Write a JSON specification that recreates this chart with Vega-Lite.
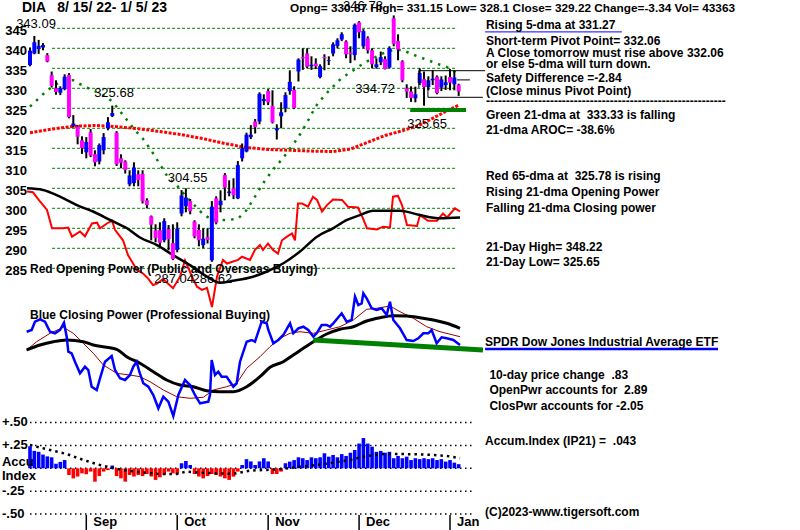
{
"$schema": "https://vega.github.io/schema/vega-lite/v6.json",
"width": 772, "height": 530,
"autosize": {"type": "none"},
"padding": {"left": 28, "top": 0, "right": 0, "bottom": 0},
"background": "white",
"config": {"view": {"stroke": null}, "font": "Liberation Sans"},
"datasets": {
"px": [
{"i":0,"o":335.8,"h":340.2,"l":335.5,"c":339.4},{"i":1,"o":338.7,"h":343.09,"l":338.5,"c":341.5},{"i":2,"o":339.8,"h":342.1,"l":338.6,"c":340.6},{"i":3,"o":340.2,"h":341.3,"l":339.5,"c":340.8},{"i":4,"o":338.3,"h":338.8,"l":336.5,"c":336.7},
{"i":5,"o":333.3,"h":334.2,"l":330.2,"c":330.6},{"i":6,"o":330.0,"h":332.0,"l":328.4,"c":329.1},{"i":7,"o":328.9,"h":330.5,"l":328.3,"c":330.0},{"i":8,"o":329.8,"h":333.5,"l":329.5,"c":332.9},{"i":9,"o":333.3,"h":333.8,"l":322.5,"c":322.8},
{"i":10,"o":320.6,"h":323.3,"l":320.2,"c":321.2},{"i":11,"o":320.4,"h":320.8,"l":316.0,"c":317.9},{"i":12,"o":317.0,"h":318.0,"l":313.6,"c":315.1},{"i":13,"o":314.0,"h":317.8,"l":312.5,"c":316.6},{"i":14,"o":319.0,"h":319.8,"l":312.8,"c":313.2},
{"i":15,"o":313.5,"h":314.5,"l":310.5,"c":311.5},{"i":16,"o":311.7,"h":316.2,"l":311.0,"c":315.8},{"i":17,"o":314.5,"h":318.8,"l":313.5,"c":317.8},{"i":18,"o":320.0,"h":322.8,"l":319.5,"c":321.5},{"i":19,"o":323.1,"h":325.68,"l":322.8,"c":323.8},
{"i":20,"o":318.9,"h":319.3,"l":310.6,"c":311.0},{"i":21,"o":312.5,"h":313.5,"l":310.0,"c":311.4},{"i":22,"o":311.7,"h":312.0,"l":308.7,"c":309.6},{"i":23,"o":306.0,"h":309.5,"l":305.5,"c":308.2},{"i":24,"o":306.3,"h":311.5,"l":305.5,"c":310.2},
{"i":25,"o":308.5,"h":309.5,"l":305.5,"c":307.1},{"i":26,"o":308.6,"h":309.5,"l":301.2,"c":301.8},{"i":27,"o":302.0,"h":302.5,"l":300.0,"c":300.8},{"i":28,"o":298.0,"h":298.2,"l":292.0,"c":295.9},{"i":29,"o":294.5,"h":296.0,"l":291.5,"c":292.6},
{"i":30,"o":294.5,"h":296.5,"l":290.2,"c":291.4},{"i":31,"o":292.0,"h":297.5,"l":291.5,"c":296.8},{"i":32,"o":294.8,"h":295.8,"l":289.5,"c":292.3},{"i":33,"o":291.3,"h":296.0,"l":287.04,"c":287.3},{"i":34,"o":289.6,"h":296.5,"l":289.0,"c":294.9},
{"i":35,"o":298.7,"h":304.55,"l":298.0,"c":303.2},{"i":36,"o":300.5,"h":305.0,"l":299.0,"c":302.7},{"i":37,"o":301.8,"h":302.3,"l":298.5,"c":299.3},{"i":38,"o":296.7,"h":297.0,"l":292.5,"c":293.0},{"i":39,"o":294.6,"h":296.0,"l":290.5,"c":292.0},
{"i":40,"o":290.8,"h":295.0,"l":290.0,"c":292.4},{"i":41,"o":292.8,"h":295.0,"l":291.2,"c":292.1},{"i":42,"o":287.0,"h":301.8,"l":286.62,"c":300.4},{"i":43,"o":302.5,"h":303.0,"l":296.0,"c":296.4},{"i":44,"o":300.8,"h":304.5,"l":299.0,"c":301.9},
{"i":45,"o":308.3,"h":308.8,"l":302.0,"c":305.2},{"i":46,"o":303.8,"h":307.0,"l":303.0,"c":304.2},{"i":47,"o":305.0,"h":307.5,"l":302.3,"c":303.3},{"i":48,"o":302.5,"h":311.8,"l":302.3,"c":310.8},{"i":49,"o":312.5,"h":316.2,"l":311.7,"c":315.0},
{"i":50,"o":314.2,"h":318.9,"l":314.0,"c":318.4},{"i":51,"o":317.8,"h":320.8,"l":317.3,"c":318.4},{"i":52,"o":321.7,"h":322.3,"l":318.7,"c":320.3},{"i":53,"o":321.7,"h":329.0,"l":321.0,"c":328.6},{"i":54,"o":326.8,"h":328.5,"l":325.8,"c":327.3},
{"i":55,"o":329.3,"h":329.8,"l":325.8,"c":326.5},{"i":56,"o":325.6,"h":329.5,"l":321.2,"c":321.5},{"i":57,"o":319.5,"h":321.0,"l":317.2,"c":320.0},{"i":58,"o":323.0,"h":326.5,"l":320.0,"c":324.0},{"i":59,"o":325.0,"h":329.0,"l":324.0,"c":328.3},
{"i":60,"o":329.3,"h":334.5,"l":328.4,"c":331.6},{"i":61,"o":329.6,"h":330.5,"l":324.8,"c":325.1},{"i":62,"o":334.2,"h":337.5,"l":331.7,"c":337.2},{"i":63,"o":337.8,"h":340.0,"l":334.6,"c":337.5},{"i":64,"o":338.7,"h":340.0,"l":335.0,"c":335.4},
{"i":65,"o":335.5,"h":338.0,"l":334.6,"c":335.9},{"i":66,"o":336.2,"h":337.5,"l":334.8,"c":335.5},{"i":67,"o":332.8,"h":336.0,"l":332.5,"c":335.5},{"i":68,"o":337.8,"h":338.5,"l":334.5,"c":337.5},{"i":69,"o":336.8,"h":338.0,"l":335.8,"c":337.0},
{"i":70,"o":338.7,"h":341.5,"l":338.0,"c":341.0},{"i":71,"o":340.6,"h":342.5,"l":340.0,"c":342.0},{"i":72,"o":342.2,"h":344.0,"l":341.8,"c":343.5},{"i":73,"o":341.7,"h":342.0,"l":337.5,"c":338.5},{"i":74,"o":338.9,"h":340.5,"l":336.3,"c":338.5},
{"i":75,"o":338.3,"h":346.2,"l":337.0,"c":345.9},{"i":76,"o":346.5,"h":346.78,"l":342.5,"c":344.0},{"i":77,"o":340.5,"h":344.8,"l":340.0,"c":344.3},{"i":78,"o":342.5,"h":343.0,"l":338.7,"c":339.5},{"i":79,"o":339.5,"h":340.0,"l":335.0,"c":336.0},
{"i":80,"o":335.3,"h":337.5,"l":334.9,"c":336.0},{"i":81,"o":336.5,"h":339.2,"l":335.8,"c":337.8},{"i":82,"o":337.3,"h":338.0,"l":334.72,"c":334.8},{"i":83,"o":335.2,"h":340.5,"l":335.0,"c":340.1},{"i":84,"o":347.5,"h":348.22,"l":340.5,"c":341.1},
{"i":85,"o":341.8,"h":343.5,"l":337.0,"c":339.7},{"i":86,"o":336.7,"h":337.0,"l":331.5,"c":332.0},{"i":87,"o":330.0,"h":331.0,"l":327.6,"c":329.2},{"i":88,"o":329.2,"h":330.5,"l":326.6,"c":327.6},{"i":89,"o":327.5,"h":330.4,"l":326.5,"c":328.5},
{"i":90,"o":331.3,"h":335.0,"l":330.8,"c":333.8},{"i":91,"o":332.3,"h":334.2,"l":325.65,"c":330.3},{"i":92,"o":330.3,"h":333.0,"l":329.5,"c":332.0},{"i":93,"o":332.0,"h":334.5,"l":330.8,"c":332.4},{"i":94,"o":332.9,"h":333.2,"l":328.5,"c":328.8},
{"i":95,"o":330.2,"h":333.0,"l":329.3,"c":332.2},{"i":96,"o":330.8,"h":333.2,"l":329.6,"c":331.5},{"i":97,"o":332.8,"h":334.8,"l":329.5,"c":331.4},{"i":98,"o":331.0,"h":334.3,"l":329.5,"c":332.7},{"i":99,"o":330.87,"h":331.15,"l":328.1,"c":329.22}
],
"ma21": [
{"i":0,"v":325.4},{"i":2,"v":327.5},{"i":4,"v":329.5},{"i":6,"v":331},{"i":8,"v":332},{"i":10,"v":332},{"i":12,"v":330.8},{"i":14,"v":329.7},{"i":16,"v":328.8},{"i":18,"v":327.7},{"i":20,"v":325.4},{"i":22,"v":322.6},{"i":24,"v":319.8},{"i":26,"v":317.5},{"i":28,"v":314.5},{"i":30,"v":311},{"i":32,"v":307.5},{"i":34,"v":305.6},{"i":36,"v":303},{"i":38,"v":300.7},{"i":40,"v":298.5},{"i":42,"v":297.2},{"i":44,"v":297.1},{"i":46,"v":297.1},{"i":48,"v":297.4},{"i":50,"v":299.5},{"i":52,"v":303},{"i":54,"v":306.5},{"i":56,"v":309.5},{"i":58,"v":312},{"i":60,"v":314.8},{"i":62,"v":317.8},{"i":64,"v":321.5},{"i":66,"v":325.5},{"i":68,"v":328.2},{"i":70,"v":330.4},{"i":72,"v":332.6},{"i":74,"v":334},{"i":76,"v":335.5},{"i":78,"v":336.8},{"i":80,"v":337.9},{"i":82,"v":339},{"i":84,"v":339.6},{"i":86,"v":339.6},{"i":88,"v":338.6},{"i":90,"v":337.8},{"i":92,"v":337},{"i":94,"v":336.1},{"i":96,"v":335.5},{"i":98,"v":334.2},{"i":99,"v":333.33}
],
"ma65": [
{"i":0,"v":318.9},{"i":5,"v":319.8},{"i":10,"v":320.5},{"i":15,"v":320.7},{"i":20,"v":320.4},{"i":25,"v":319.9},{"i":30,"v":319.2},{"i":35,"v":318.4},{"i":40,"v":317.4},{"i":45,"v":316.2},{"i":50,"v":315.2},{"i":55,"v":314.7},{"i":60,"v":314.5},{"i":65,"v":314.3},{"i":70,"v":314.2},{"i":74,"v":314.8},{"i":78,"v":316.5},{"i":82,"v":318.2},{"i":86,"v":319.4},{"i":90,"v":320.8},{"i":93,"v":322.5},{"i":96,"v":324.2},{"i":99,"v":325.78}
],
"op": [
{"i":-0.69,"v":304.2},{"i":0.69,"v":304.0},{"i":2.31,"v":301.7},{"i":3.93,"v":299.6},{"i":5.08,"v":295},{"i":7.62,"v":295},{"i":8.78,"v":295.2},{"i":9.7,"v":292.9},{"i":11.55,"v":294.2},{"i":12.7,"v":293},{"i":14.32,"v":296.2},{"i":15.47,"v":296.4},{"i":16.17,"v":295},{"i":17.78,"v":296.2},{"i":18.94,"v":296.9},{"i":19.63,"v":294.6},{"i":21.48,"v":292},{"i":22.63,"v":288.3},{"i":24.71,"v":284.6},{"i":26.1,"v":283.7},{"i":27.25,"v":282.5},{"i":28.41,"v":280.8},{"i":29.33,"v":281.2},{"i":30.72,"v":282.3},{"i":33.03,"v":280},{"i":34.64,"v":282.9},{"i":35.8,"v":287},{"i":37.41,"v":282.9},{"i":38.57,"v":280.4},{"i":39.72,"v":279.6},{"i":40.88,"v":280.1},{"i":42.03,"v":275.3},{"i":43.2,"v":283},{"i":44.57,"v":287.1},{"i":45.5,"v":286.2},{"i":48.04,"v":287.1},{"i":48.96,"v":287.9},{"i":50.8,"v":287.1},{"i":51.96,"v":289.6},{"i":53.12,"v":290.8},{"i":53.8,"v":289.6},{"i":54.97,"v":291.2},{"i":56.12,"v":289.6},{"i":57.27,"v":288.7},{"i":58.2,"v":292},{"i":59.35,"v":292.9},{"i":60.51,"v":293.7},{"i":61.2,"v":292},{"i":61.89,"v":301.2},{"i":62.82,"v":301.2},{"i":64.2,"v":300.4},{"i":65.36,"v":302.9},{"i":66.28,"v":302.1},{"i":67.44,"v":299.2},{"i":68.59,"v":300.8},{"i":69.98,"v":302.2},{"i":72.06,"v":302.1},{"i":73.44,"v":300.4},{"i":75.75,"v":300.2},{"i":76.9,"v":297.5},{"i":77.83,"v":295},{"i":80.14,"v":294.7},{"i":81.52,"v":295.4},{"i":83.14,"v":295.2},{"i":83.83,"v":302.9},{"i":84.99,"v":303.1},{"i":85.91,"v":300.8},{"i":87.07,"v":295.8},{"i":89.38,"v":295.6},{"i":90.07,"v":298.3},{"i":91.92,"v":296.9},{"i":94,"v":296.9},{"i":95.38,"v":298.7},{"i":96.3,"v":297.7},{"i":98.15,"v":300},{"i":99.31,"v":299.2}
],
"opma": [
{"i":-0.69,"v":305},{"i":3.0,"v":304.6},{"i":6.93,"v":302.9},{"i":10.85,"v":300.8},{"i":14.55,"v":299.2},{"i":18.48,"v":297.1},{"i":22.4,"v":295},{"i":25.4,"v":292.7},{"i":29.33,"v":290.8},{"i":33.03,"v":288.3},{"i":36.95,"v":285.8},{"i":40.88,"v":282.9},{"i":43.88,"v":281.4},{"i":46.88,"v":281.9},{"i":51.5,"v":282.9},{"i":54.73,"v":284.2},{"i":58.43,"v":286.2},{"i":62.36,"v":289.2},{"i":66.28,"v":292.9},{"i":69.98,"v":295},{"i":73.21,"v":297.1},{"i":76.21,"v":298.3},{"i":79.21,"v":299.4},{"i":85.45,"v":299.4},{"i":90.07,"v":298.3},{"i":94.69,"v":297.5},{"i":99.31,"v":297.7}
],
"cpb": [
{"i":-0.77,"v":0.83},{"i":0.38,"v":1.0},{"i":1.15,"v":1.83},{"i":2.31,"v":2.07},{"i":3.46,"v":1.83},{"i":4.62,"v":0.83},{"i":5.77,"v":0.67},{"i":6.93,"v":1.0},{"i":7.85,"v":1.73},{"i":8.47,"v":0.33},{"i":8.85,"v":-1.17},{"i":9.62,"v":-1.33},{"i":10.39,"v":-2.17},{"i":11.55,"v":-3.33},{"i":12.7,"v":-2.67},{"i":13.47,"v":-3.0},{"i":14.24,"v":-4.67},{"i":15.4,"v":-5.0},{"i":16.17,"v":-3.83},{"i":17.32,"v":-2.17},{"i":18.86,"v":-1.6},{"i":19.63,"v":-3.0},{"i":20.79,"v":-3.83},{"i":21.94,"v":-4.0},{"i":23.09,"v":-3.5},{"i":23.86,"v":-2.67},{"i":24.63,"v":-2.17},{"i":25.25,"v":-3.17},{"i":26.17,"v":-4.33},{"i":27.33,"v":-4.67},{"i":28.48,"v":-5.5},{"i":29.64,"v":-6.83},{"i":30.79,"v":-5.67},{"i":31.95,"v":-6.17},{"i":33.1,"v":-7.6},{"i":34.26,"v":-5.5},{"i":35.8,"v":-4.0},{"i":36.95,"v":-4.5},{"i":38.1,"v":-5.5},{"i":39.26,"v":-6.33},{"i":41.18,"v":-6.17},{"i":41.57,"v":-5.5},{"i":41.96,"v":-2.0},{"i":42.73,"v":-3.5},{"i":43.49,"v":-3.17},{"i":44.26,"v":-3.67},{"i":45.42,"v":-3.67},{"i":46.96,"v":-4.67},{"i":47.73,"v":-4.33},{"i":48.5,"v":-2.17},{"i":50.04,"v":-0.17},{"i":51.19,"v":0.0},{"i":51.96,"v":-0.17},{"i":53.5,"v":1.83},{"i":54.66,"v":1.67},{"i":55.04,"v":1.0},{"i":56.2,"v":-0.33},{"i":57.35,"v":0.0},{"i":58.5,"v":0.5},{"i":60.05,"v":1.67},{"i":60.81,"v":0.67},{"i":61.97,"v":1.17},{"i":63.12,"v":1.33},{"i":64.27,"v":1.0},{"i":65.43,"v":0.33},{"i":66.2,"v":0.67},{"i":67.36,"v":1.5},{"i":68.51,"v":1.5},{"i":69.28,"v":1.33},{"i":70.05,"v":1.67},{"i":71.98,"v":2.67},{"i":73.13,"v":1.83},{"i":74.29,"v":2.0},{"i":75.06,"v":4.33},{"i":75.82,"v":3.5},{"i":76.6,"v":3.67},{"i":76.98,"v":4.67},{"i":77.75,"v":4.17},{"i":78.91,"v":3.17},{"i":80.06,"v":3.0},{"i":81.22,"v":3.17},{"i":82.37,"v":2.5},{"i":83.14,"v":3.83},{"i":83.91,"v":2.0},{"i":85.45,"v":1.17},{"i":86.99,"v":0.0},{"i":88.53,"v":-0.1},{"i":89.68,"v":0.17},{"i":90.84,"v":0.67},{"i":91.99,"v":0.67},{"i":92.76,"v":1.0},{"i":93.92,"v":-0.33},{"i":95.07,"v":0.27},{"i":96.23,"v":0.17},{"i":97.77,"v":0.0},{"i":99.31,"v":-0.5}
],
"cpr": [
{"i":-0.77,"v":-1.0},{"i":1.54,"v":-0.17},{"i":4.62,"v":0.67},{"i":7.7,"v":1.27},{"i":10.0,"v":0.67},{"i":12.32,"v":-0.33},{"i":14.63,"v":-1.33},{"i":16.94,"v":-2.5},{"i":20.01,"v":-3.33},{"i":23.09,"v":-3.5},{"i":25.4,"v":-3.67},{"i":27.71,"v":-4.17},{"i":30.79,"v":-5.0},{"i":33.87,"v":-5.67},{"i":36.95,"v":-5.83},{"i":40.03,"v":-5.73},{"i":42.34,"v":-5.0},{"i":45.42,"v":-4.67},{"i":47.73,"v":-4.33},{"i":50.04,"v":-2.83},{"i":53.12,"v":-1.67},{"i":55.43,"v":-0.67},{"i":57.74,"v":0.17},{"i":60.05,"v":0.67},{"i":62.36,"v":0.83},{"i":65.43,"v":0.67},{"i":68.51,"v":1.0},{"i":71.59,"v":1.33},{"i":74.67,"v":2.0},{"i":77.75,"v":3.07},{"i":80.06,"v":3.17},{"i":83.14,"v":3.4},{"i":85.45,"v":2.83},{"i":88.53,"v":2.17},{"i":91.61,"v":1.33},{"i":94.69,"v":0.83},{"i":99.31,"v":0.33}
],
"cpk": [
{"i":-0.77,"v":-1.0},{"i":2.31,"v":-0.5},{"i":5.39,"v":-0.17},{"i":8.47,"v":0.0},{"i":12.32,"v":-0.17},{"i":14.63,"v":-0.5},{"i":17.7,"v":-0.73},{"i":20.01,"v":-0.93},{"i":22.32,"v":-1.67},{"i":25.4,"v":-2.33},{"i":28.48,"v":-3.17},{"i":31.56,"v":-4.0},{"i":34.64,"v":-4.5},{"i":37.72,"v":-4.67},{"i":40.8,"v":-5.07},{"i":43.88,"v":-5.17},{"i":46.96,"v":-5.17},{"i":50.04,"v":-4.67},{"i":53.12,"v":-3.67},{"i":55.43,"v":-2.73},{"i":58.5,"v":-2.17},{"i":60.81,"v":-1.5},{"i":63.12,"v":-0.83},{"i":65.43,"v":-0.17},{"i":68.51,"v":0.6},{"i":71.59,"v":1.07},{"i":74.67,"v":1.33},{"i":77.75,"v":1.9},{"i":80.83,"v":2.23},{"i":83.91,"v":2.43},{"i":86.99,"v":2.4},{"i":90.07,"v":2.23},{"i":93.15,"v":2.0},{"i":96.23,"v":1.67},{"i":99.31,"v":1.17}
],
"cpg": [{"i":65.4,"v":0.0},{"i":104.6,"v":-1.0}],
"acc": [
{"i":0,"a":0.24},{"i":1,"a":0.19},{"i":2,"a":0.18},{"i":3,"a":0.15},{"i":4,"a":0.13},{"i":5,"a":0.12},{"i":6,"a":0.05},{"i":7,"a":0.07},{"i":8,"a":0.09},{"i":9,"a":-0.073},
{"i":10,"a":-0.11},{"i":11,"a":-0.09},{"i":12,"a":-0.055},{"i":13,"a":-0.065},{"i":14,"a":-0.036},{"i":15,"a":-0.146},{"i":16,"a":-0.085},{"i":17,"a":-0.036},{"i":18,"a":-0.02},{"i":19,"a":0.03},
{"i":20,"a":-0.085},{"i":21,"a":-0.11},{"i":22,"a":-0.146},{"i":23,"a":-0.073},{"i":24,"a":-0.09},{"i":25,"a":-0.073},{"i":26,"a":-0.085},{"i":27,"a":-0.062},{"i":28,"a":-0.09},{"i":29,"a":-0.127},
{"i":30,"a":-0.098},{"i":31,"a":-0.073},{"i":32,"a":-0.036},{"i":33,"a":-0.055},{"i":34,"a":-0.062},{"i":35,"a":0.055},{"i":36,"a":0.08},{"i":37,"a":0.036},{"i":38,"a":-0.062},{"i":39,"a":-0.09},
{"i":40,"a":-0.11},{"i":41,"a":-0.085},{"i":42,"a":-0.062},{"i":43,"a":-0.073},{"i":44,"a":-0.09},{"i":45,"a":-0.11},{"i":46,"a":-0.127},{"i":47,"a":-0.091},{"i":48,"a":-0.036},{"i":49,"a":0.036},
{"i":50,"a":0.1},{"i":51,"a":0.075},{"i":52,"a":0.036},{"i":53,"a":0.075},{"i":54,"a":0.11},{"i":55,"a":0.075},{"i":56,"a":-0.062},{"i":57,"a":-0.062},{"i":58,"a":-0.036},{"i":59,"a":0.055},
{"i":60,"a":0.073},{"i":61,"a":0.09},{"i":62,"a":0.12},{"i":63,"a":0.11},{"i":64,"a":0.09},{"i":65,"a":0.12},{"i":66,"a":0.11},{"i":67,"a":0.12},{"i":68,"a":0.164},{"i":69,"a":0.127},
{"i":70,"a":0.145},{"i":71,"a":0.12},{"i":72,"a":0.155},{"i":73,"a":0.135},{"i":74,"a":0.17},{"i":75,"a":0.2},{"i":76,"a":0.27},{"i":77,"a":0.33},{"i":78,"a":0.27},{"i":79,"a":0.236},
{"i":80,"a":0.18},{"i":81,"a":0.19},{"i":82,"a":0.17},{"i":83,"a":0.18},{"i":84,"a":0.11},{"i":85,"a":0.135},{"i":86,"a":0.11},{"i":87,"a":0.127},{"i":88,"a":0.09},{"i":89,"a":0.11},
{"i":90,"a":0.1},{"i":91,"a":0.11},{"i":92,"a":0.1},{"i":93,"a":0.11},{"i":94,"a":0.09},{"i":95,"a":0.1},{"i":96,"a":0.073},{"i":97,"a":0.09},{"i":98,"a":0.062},{"i":99,"a":0.045}
],
"accma": [
{"i":0,"v":0.254},{"i":4.62,"v":0.2},{"i":8.47,"v":0.156},{"i":12.32,"v":0.091},{"i":16.17,"v":0.036},{"i":19.25,"v":0.0},{"i":22.32,"v":-0.025},{"i":26.17,"v":-0.047},{"i":30.02,"v":-0.062},{"i":33.87,"v":-0.062},{"i":36.18,"v":-0.036},{"i":39.26,"v":-0.047},{"i":43.1,"v":-0.055},{"i":46.95,"v":-0.062},{"i":50.8,"v":-0.025},{"i":54.66,"v":-0.018},{"i":58.5,"v":-0.007},{"i":62.36,"v":0.018},{"i":66.2,"v":0.036},{"i":70.05,"v":0.062},{"i":73.9,"v":0.091},{"i":77.75,"v":0.135},{"i":81.6,"v":0.156},{"i":85.45,"v":0.156},{"i":89.3,"v":0.153},{"i":93.15,"v":0.145},{"i":96.23,"v":0.135},{"i":99.31,"v":0.11}
],
"months": [{"i":13,"t":"Sep"},{"i":34,"t":"Oct"},{"i":55,"t":"Nov"},{"i":76,"t":"Dec"},{"i":97,"t":"Jan"}],
"acclab": [{"v":0.5,"t":"+.50"},{"v":0.25,"t":"+.25"},{"v":-0.25,"t":"-.25"},{"v":-0.5,"t":"-.50"},{"v":0.069,"t":"Accu"},{"v":-0.084,"t":"Index"}],
"ylab": [{"v":345,"t":"345"},{"v":340,"t":"340"},{"v":335,"t":"335"},{"v":330,"t":"330"},{"v":325,"t":"325"},{"v":320,"t":"320"},{"v":315,"t":"315"},{"v":310,"t":"310"},{"v":305,"t":"305"},{"v":300,"t":"300"},{"v":295,"t":"295"},{"v":290,"t":"290"},{"v":285,"t":"285"}],
"notes": [
{"i":105.3,"v":345.75,"t":"Rising 5-dma at 331.27"},
{"i":105.3,"v":341.83,"t":"Short-term Pivot Point= 332.06"},
{"i":105.3,"v":338.88,"t":"A Close tomorrow must rise above 332.06"},
{"i":105.3,"v":336.08,"t":"or else 5-dma will turn down."},
{"i":105.3,"v":332.58,"t":"Safety Difference =-2.84"},
{"i":105.3,"v":329.33,"t":"\u00a0(Close minus Pivot Point)"},
{"i":105.3,"v":326.9,"t":"------------------------------------------------------------"},
{"i":105.3,"v":323.33,"t":"Green 21-dma at \u00a0333.33 is falling"},
{"i":105.3,"v":319.58,"t":"21-dma AROC= -38.6%"},
{"i":105.3,"v":308.08,"t":"Red 65-dma at \u00a0325.78 is rising"},
{"i":105.3,"v":304.08,"t":"Rising 21-dma Opening Power"},
{"i":105.3,"v":300.08,"t":"Falling 21-dma Closing power"},
{"i":105.3,"v":290.33,"t":"21-Day High= 348.22"},
{"i":105.3,"v":286.58,"t":"21-Day Low= 325.65"},
{"i":105.1,"v":266.58,"t":"SPDR Dow Jones Industrial Average ETF"},
{"i":106.1,"v":258.33,"t":"10-day price change \u00a0.83"},
{"i":106.1,"v":254.58,"t":"OpenPwr accounts for \u00a02.89"},
{"i":106.1,"v":250.58,"t":"ClosPwr accounts for -2.05"},
{"i":105.1,"v":241.83,"t":"Accum.Index (IP21) = \u00a0.043"},
{"i":105.1,"v":224.08,"t":"(C)2023-www.tigersoft.com"},
{"i":0,"v":284.8,"t":"Red Opening Power (Public and Overseas Buying)"},
{"i":0,"v":273.3,"t":"Blue Closing Power (Professional Buying)"}
],
"vlabels": [
{"i":1.39,"v":346.08,"t":"343.09"},{"i":19.4,"v":328.8,"t":"325.68"},{"i":36.4,"v":307.7,"t":"304.55"},{"i":33.3,"v":282.3,"t":"287.04"},{"i":42.1,"v":282.3,"t":"286.62"},{"i":79.7,"v":329.8,"t":"334.72"},{"i":91.7,"v":321.1,"t":"325.65"},{"i":76.9,"v":350.6,"t":"346.78"}
],
"title1": [{"i":-1.85,"v":350.1,"t":"DIA \u00a0\u00a08/ 15/ 22- 1/ 5/ 23"}],
"title2": [{"i":60.05,"v":350.1,"t":"Opng= 330.87 High= 331.15 Low= 328.1 Close= 329.22 Change=-3.34 Vol= 43363"}]
},
"layer": [
{
"layer": [
{"data": {"values": [{"v":345},{"v":340},{"v":335},{"v":330},{"v":325},{"v":320},{"v":315},{"v":310},{"v":305},{"v":300},{"v":295},{"v":290},{"v":285}]},
 "mark": {"type": "rule", "color": "#008000", "strokeDash": [3, 2], "strokeWidth": 1},
 "encoding": {
  "x": {"datum": 5.1, "type": "quantitative", "scale": {"domain": [-0.462, 177.83], "nice": false, "zero": false}, "axis": null},
  "x2": {"datum": 98.4},
  "y": {"field": "v", "type": "quantitative", "scale": {"domain": [219.575, 352.075], "nice": false, "zero": false}, "axis": null}
 }},
{"data": {"name": "ylab"},
 "mark": {"type": "text", "fontSize": 13, "fontWeight": "bold", "color": "#000000", "align": "right", "baseline": "middle", "dy": 2.5, "font": "Liberation Sans"},
 "encoding": {
  "x": {"datum": -0.69, "type": "quantitative", "scale": {"domain": [-0.462, 177.83], "nice": false, "zero": false}, "axis": null},
  "y": {"field": "v", "type": "quantitative", "scale": {"domain": [219.575, 352.075], "nice": false, "zero": false}, "axis": null},
  "text": {"field": "t"}
 }},
{"data": {"name": "ma65"},
 "mark": {"type": "line", "color": "#ff0000", "strokeWidth": 3, "strokeDash": [3, 1.5]},
 "encoding": {
  "x": {"field": "i", "type": "quantitative", "scale": {"domain": [-0.462, 177.83], "nice": false, "zero": false}, "axis": null},
  "y": {"field": "v", "type": "quantitative", "scale": {"domain": [219.575, 352.075], "nice": false, "zero": false}, "axis": null}
 }},
{"data": {"name": "ma21"},
 "mark": {"type": "line", "color": "#008000", "strokeWidth": 2.5, "strokeDash": [2.5, 6]},
 "encoding": {
  "x": {"field": "i", "type": "quantitative", "scale": {"domain": [-0.462, 177.83], "nice": false, "zero": false}, "axis": null},
  "y": {"field": "v", "type": "quantitative", "scale": {"domain": [219.575, 352.075], "nice": false, "zero": false}, "axis": null}
 }},
{"data": {"name": "op"},
 "mark": {"type": "line", "color": "#ff0000", "strokeWidth": 2},
 "encoding": {
  "x": {"field": "i", "type": "quantitative", "scale": {"domain": [-0.462, 177.83], "nice": false, "zero": false}, "axis": null},
  "y": {"field": "v", "type": "quantitative", "scale": {"domain": [219.575, 352.075], "nice": false, "zero": false}, "axis": null}
 }},
{"data": {"name": "opma"},
 "mark": {"type": "line", "color": "#000000", "strokeWidth": 2.5, "interpolate": "monotone"},
 "encoding": {
  "x": {"field": "i", "type": "quantitative", "scale": {"domain": [-0.462, 177.83], "nice": false, "zero": false}, "axis": null},
  "y": {"field": "v", "type": "quantitative", "scale": {"domain": [219.575, 352.075], "nice": false, "zero": false}, "axis": null}
 }},
{"data": {"name": "px"},
 "mark": {"type": "rule", "color": "#000000", "strokeWidth": 2},
 "encoding": {
  "x": {"field": "i", "type": "quantitative", "scale": {"domain": [-0.462, 177.83], "nice": false, "zero": false}, "axis": null},
  "y": {"field": "l", "type": "quantitative", "scale": {"domain": [219.575, 352.075], "nice": false, "zero": false}, "axis": null},
  "y2": {"field": "h"}
 }},
{"data": {"name": "px"},
 "mark": {"type": "rule", "strokeWidth": 4},
 "encoding": {
  "x": {"field": "i", "type": "quantitative", "scale": {"domain": [-0.462, 177.83], "nice": false, "zero": false}, "axis": null},
  "y": {"field": "o", "type": "quantitative", "scale": {"domain": [219.575, 352.075], "nice": false, "zero": false}, "axis": null},
  "y2": {"field": "c"},
  "color": {"condition": {"test": "datum.c >= datum.o", "value": "#0000ff"}, "value": "#ff00ff"}
 }},
{"data": {"values": [{"a":89.8,"b":105.1,"y":334.4,"y2":334.4},{"a":89.8,"b":89.8,"y":334.4,"y2":330.1},{"a":91.9,"b":104.6,"y":327.75,"y2":327.75},{"a":91.9,"b":91.9,"y":332.1,"y2":327.75},{"a":98.6,"b":101.6,"y":332.1,"y2":332.1}]},
 "mark": {"type": "rule", "color": "#000000", "strokeWidth": 1},
 "encoding": {
  "x": {"field": "a", "type": "quantitative", "scale": {"domain": [-0.462, 177.83], "nice": false, "zero": false}, "axis": null},
  "x2": {"field": "b"},
  "y": {"field": "y", "type": "quantitative", "scale": {"domain": [219.575, 352.075], "nice": false, "zero": false}, "axis": null},
  "y2": {"field": "y2"}
 }},
{"data": {"values": [{"a":87.8,"b":100.7,"y":324.6}]},
 "mark": {"type": "rule", "color": "#008000", "strokeWidth": 4},
 "encoding": {
  "x": {"field": "a", "type": "quantitative", "scale": {"domain": [-0.462, 177.83], "nice": false, "zero": false}, "axis": null},
  "x2": {"field": "b"},
  "y": {"field": "y", "type": "quantitative", "scale": {"domain": [219.575, 352.075], "nice": false, "zero": false}, "axis": null}
 }},
{"data": {"values": [{"a":105.1,"b":136.7,"y":344.1}]},
 "mark": {"type": "rule", "color": "#0000ff", "strokeWidth": 1},
 "encoding": {
  "x": {"field": "a", "type": "quantitative", "scale": {"domain": [-0.462, 177.83], "nice": false, "zero": false}, "axis": null},
  "x2": {"field": "b"},
  "y": {"field": "y", "type": "quantitative", "scale": {"domain": [219.575, 352.075], "nice": false, "zero": false}, "axis": null}
 }},
{"data": {"values": [{"a":105.1,"b":158.9,"y":264.8}]},
 "mark": {"type": "rule", "color": "#0000ff", "strokeWidth": 2.5},
 "encoding": {
  "x": {"field": "a", "type": "quantitative", "scale": {"domain": [-0.462, 177.83], "nice": false, "zero": false}, "axis": null},
  "x2": {"field": "b"},
  "y": {"field": "y", "type": "quantitative", "scale": {"domain": [219.575, 352.075], "nice": false, "zero": false}, "axis": null}
 }},
{"data": {"name": "vlabels"},
 "mark": {"type": "text", "fontSize": 13, "color": "#000000", "align": "center", "baseline": "middle", "font": "Liberation Sans"},
 "encoding": {
  "x": {"field": "i", "type": "quantitative", "scale": {"domain": [-0.462, 177.83], "nice": false, "zero": false}, "axis": null},
  "y": {"field": "v", "type": "quantitative", "scale": {"domain": [219.575, 352.075], "nice": false, "zero": false}, "axis": null},
  "text": {"field": "t"}
 }},
{"data": {"name": "notes"},
 "mark": {"type": "text", "fontSize": 12, "fontWeight": "bold", "color": "#000000", "align": "left", "baseline": "middle", "font": "Liberation Sans"},
 "encoding": {
  "x": {"field": "i", "type": "quantitative", "scale": {"domain": [-0.462, 177.83], "nice": false, "zero": false}, "axis": null},
  "y": {"field": "v", "type": "quantitative", "scale": {"domain": [219.575, 352.075], "nice": false, "zero": false}, "axis": null},
  "text": {"field": "t"}
 }},
{"data": {"name": "title1"},
 "mark": {"type": "text", "fontSize": 14, "fontWeight": "bold", "color": "#000000", "align": "left", "baseline": "middle", "font": "Liberation Sans"},
 "encoding": {
  "x": {"field": "i", "type": "quantitative", "scale": {"domain": [-0.462, 177.83], "nice": false, "zero": false}, "axis": null},
  "y": {"field": "v", "type": "quantitative", "scale": {"domain": [219.575, 352.075], "nice": false, "zero": false}, "axis": null},
  "text": {"field": "t"}
 }},
{"data": {"name": "title2"},
 "mark": {"type": "text", "fontSize": 11.8, "fontWeight": "bold", "color": "#000000", "align": "left", "baseline": "middle", "font": "Liberation Sans"},
 "encoding": {
  "x": {"field": "i", "type": "quantitative", "scale": {"domain": [-0.462, 177.83], "nice": false, "zero": false}, "axis": null},
  "y": {"field": "v", "type": "quantitative", "scale": {"domain": [219.575, 352.075], "nice": false, "zero": false}, "axis": null},
  "text": {"field": "t"}
 }}
]
},
{
"layer": [
{"data": {"name": "cpr"},
 "mark": {"type": "line", "color": "#990000", "strokeWidth": 1},
 "encoding": {
  "x": {"field": "i", "type": "quantitative", "scale": {"domain": [-0.462, 177.83], "nice": false, "zero": false}, "axis": null},
  "y": {"field": "v", "type": "quantitative", "scale": {"domain": [-19, 34], "nice": false, "zero": false}, "axis": null}
 }},
{"data": {"name": "cpk"},
 "mark": {"type": "line", "color": "#000000", "strokeWidth": 3, "interpolate": "monotone"},
 "encoding": {
  "x": {"field": "i", "type": "quantitative", "scale": {"domain": [-0.462, 177.83], "nice": false, "zero": false}, "axis": null},
  "y": {"field": "v", "type": "quantitative", "scale": {"domain": [-19, 34], "nice": false, "zero": false}, "axis": null}
 }},
{"data": {"name": "cpg"},
 "mark": {"type": "line", "color": "#008000", "strokeWidth": 5},
 "encoding": {
  "x": {"field": "i", "type": "quantitative", "scale": {"domain": [-0.462, 177.83], "nice": false, "zero": false}, "axis": null},
  "y": {"field": "v", "type": "quantitative", "scale": {"domain": [-19, 34], "nice": false, "zero": false}, "axis": null}
 }},
{"data": {"name": "cpb"},
 "mark": {"type": "line", "color": "#0000ff", "strokeWidth": 2.5},
 "encoding": {
  "x": {"field": "i", "type": "quantitative", "scale": {"domain": [-0.462, 177.83], "nice": false, "zero": false}, "axis": null},
  "y": {"field": "v", "type": "quantitative", "scale": {"domain": [-19, 34], "nice": false, "zero": false}, "axis": null}
 }}
]
},
{
"layer": [
{"data": {"values": [{"v":0.5},{"v":0.25},{"v":0},{"v":-0.25},{"v":-0.5}]},
 "mark": {"type": "rule", "color": "#000000", "strokeDash": [1.5, 3.5], "strokeWidth": 1.5},
 "encoding": {
  "x": {"datum": 0, "type": "quantitative", "scale": {"domain": [-0.462, 177.83], "nice": false, "zero": false}, "axis": null},
  "x2": {"datum": 102},
  "y": {"field": "v", "type": "quantitative", "scale": {"domain": [-0.6736, 5.1124], "nice": false, "zero": false}, "axis": null}
 }},
{"data": {"name": "acc"},
 "mark": {"type": "rule", "strokeWidth": 3.6},
 "encoding": {
  "x": {"field": "i", "type": "quantitative", "scale": {"domain": [-0.462, 177.83], "nice": false, "zero": false}, "axis": null},
  "y": {"field": "a", "type": "quantitative", "scale": {"domain": [-0.6736, 5.1124], "nice": false, "zero": false}, "axis": null},
  "y2": {"datum": 0},
  "color": {"condition": {"test": "datum.a >= 0", "value": "#0000ff"}, "value": "#ff0000"}
 }},
{"data": {"name": "accma"},
 "mark": {"type": "line", "color": "#000000", "strokeWidth": 2.5, "strokeDash": [2.5, 4]},
 "encoding": {
  "x": {"field": "i", "type": "quantitative", "scale": {"domain": [-0.462, 177.83], "nice": false, "zero": false}, "axis": null},
  "y": {"field": "v", "type": "quantitative", "scale": {"domain": [-0.6736, 5.1124], "nice": false, "zero": false}, "axis": null}
 }},
{"data": {"name": "months"},
 "mark": {"type": "rule", "color": "#000000", "strokeWidth": 1.5},
 "encoding": {
  "x": {"field": "i", "type": "quantitative", "scale": {"domain": [-0.462, 177.83], "nice": false, "zero": false}, "axis": null},
  "y": {"datum": -0.51, "type": "quantitative", "scale": {"domain": [-0.6736, 5.1124], "nice": false, "zero": false}, "axis": null},
  "y2": {"datum": -0.6736}
 }},
{"data": {"name": "months"},
 "mark": {"type": "text", "fontSize": 13, "fontWeight": "bold", "color": "#000000", "align": "left", "baseline": "middle", "dx": 7, "font": "Liberation Sans"},
 "encoding": {
  "x": {"field": "i", "type": "quantitative", "scale": {"domain": [-0.462, 177.83], "nice": false, "zero": false}, "axis": null},
  "y": {"datum": -0.587, "type": "quantitative", "scale": {"domain": [-0.6736, 5.1124], "nice": false, "zero": false}, "axis": null},
  "text": {"field": "t"}
 }},
{"data": {"name": "acclab"},
 "mark": {"type": "text", "fontSize": 13, "fontWeight": "bold", "color": "#000000", "align": "left", "baseline": "middle", "font": "Liberation Sans"},
 "encoding": {
  "x": {"datum": -6.47, "type": "quantitative", "scale": {"domain": [-0.462, 177.83], "nice": false, "zero": false}, "axis": null},
  "y": {"field": "v", "type": "quantitative", "scale": {"domain": [-0.6736, 5.1124], "nice": false, "zero": false}, "axis": null},
  "text": {"field": "t"}
 }}
]
}
],
"resolve": {"scale": {"y": "independent"}}
}
